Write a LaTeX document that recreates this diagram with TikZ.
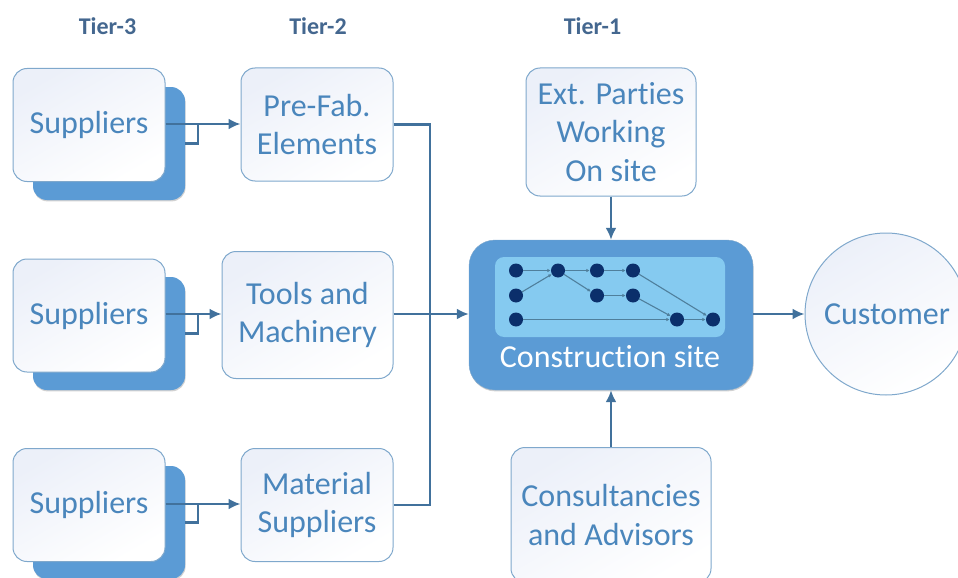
\documentclass[tikz,border=0pt]{standalone}
\usepackage{fontspec}
\setmainfont[Ligatures=NoCommon]{Carlito}
\usetikzlibrary{arrows.meta,calc,shadows}
\definecolor{boxline}{HTML}{7FA8CC}
\definecolor{boxtext}{HTML}{4A86BC}
\definecolor{sitefill}{HTML}{5B9BD5}
\definecolor{panelfill}{HTML}{85CAF0}
\definecolor{linkcol}{HTML}{41719C}
\definecolor{tiercol}{HTML}{44678F}
\definecolor{dotfill}{HTML}{0B2F6B}
\definecolor{hopcol}{HTML}{4F7F9C}
\definecolor{tintcol}{HTML}{ECF0F9}
\tikzset{%
  softshadow/.style = {drop shadow={shadow xshift=0.6pt, shadow yshift=-1.4pt, opacity=0.18, fill=black}},%
  tinted/.style = {top color=tintcol, middle color=white, bottom color=white, shading angle=30},%
  front/.style  = {shape=rectangle, rounded corners=14pt, draw=boxline, line width=1pt,%
                   align=center, inner sep=0pt, font=\fontsize{32}{38.5}\selectfont,%
                   text=boxtext, tinted},%
  back/.style   = {shape=rectangle, rounded corners=14pt, fill=sitefill, inner sep=0pt,%
                   minimum width=152pt, minimum height=113pt, softshadow},%
  supplier/.style = {front, minimum width=152pt, minimum height=113pt},%
  tier/.style   = {font=\fontsize{24}{28}\bfseries\selectfont, text=tiercol},%
  link/.style   = {draw=linkcol, line width=2.3pt},%
  flow/.style   = {link, -{Latex[length=12pt,width=11pt]}},%
  dot/.style    = {circle, fill=dotfill, inner sep=0pt, minimum size=14pt},%
  hop/.style    = {draw=hopcol, line width=1.1pt, -{Latex[length=3.5pt,width=3.5pt]}}%
}
\begin{document}
\begin{tikzpicture}[x=1pt,y=-1pt]
	\useasboundingbox (0,0) rectangle (958,578);
	\clip (0,0) rectangle (958,578);
	% column headers
	\node (tierthree) at (107.5,26) [tier] {Tier-3};
	\node (tiertwo) at (318,26) [tier] {Tier-2};
	\node (tierone) at (592.5,26) [tier] {Tier-1};
	% suppliers
	\node (backa) at (109,143.5) [back] {};
	\node (backb) at (109,333.5) [back] {};
	\node (backc) at (109,522.5) [back] {};
	\node (supa) at (89,125) [supplier] {Suppliers};
	\node (supb) at (89,315.5) [supplier] {Suppliers};
	\node (supc) at (89,505) [supplier] {Suppliers};
	% tier 2
	\node (prefab) at (317,124.5) [front, minimum width=152pt, minimum height=113pt] {Pre-Fab.\\Elements};
	\node (tools) at (307.5,315) [front, minimum width=171pt, minimum height=127pt] {Tools and\\Machinery};
	\node (material) at (317,505) [front, minimum width=152pt, minimum height=113pt] {Material\\Suppliers};
	% tier 1
	\node (parties) at (611,132) [front, minimum width=170pt, minimum height=128pt] {Ext. Parties\\Working\\On site};
	\node (advisors) at (611,515) [front, minimum width=200pt, minimum height=135pt] {Consultancies\\and Advisors};
	\node (site) at (611,315) [shape=rectangle, rounded corners=26pt, fill=sitefill, draw=boxline,%
		minimum width=284pt, minimum height=150pt, softshadow] {};
	\node (panel) at (610,297) [shape=rectangle, rounded corners=9pt, fill=panelfill,%
		minimum width=230pt, minimum height=80pt] {};
	\node (sitename) at (610,357) [font=\fontsize{32}{38}\selectfont, text=white] {Construction site};
	\node (customer) at (886,314) [circle, draw=boxline, line width=1pt, inner sep=0pt, tinted,%
		minimum size=162pt] {};
	\node (customername) at (887,314) [font=\fontsize{32}{38}\selectfont, text=boxtext] {Customer};
	% small network
	\node (na) at (516,270.5) [dot] {};
	\node (nb) at (558,270.5) [dot] {};
	\node (nc) at (597,270.5) [dot] {};
	\node (nd) at (633,270.5) [dot] {};
	\node (ne) at (516,295.5) [dot] {};
	\node (nf) at (597,295.5) [dot] {};
	\node (ng) at (633,295.5) [dot] {};
	\node (nh) at (516,319.5) [dot] {};
	\node (ni) at (677,319.5) [dot] {};
	\node (nj) at (713,319.5) [dot] {};
	\draw [hop] (na) -- (nb);
	\draw [hop] (ne) -- (nb);
	\draw [hop] (nb) -- (nc);
	\draw [hop] (nc) -- (nd);
	\draw [hop] (nb) -- (nf);
	\draw [hop] (nf) -- (ng);
	\draw [hop] (ng) -- (ni);
	\draw [hop] (nd) -- (nj);
	\draw [hop] (nh) -- (ni);
	\draw [hop] (ni) -- (nj);
	% connectors
	\coordinate (joina) at (198,124);
	\coordinate (joinb) at (198,314);
	\coordinate (joinc) at (198,504);
	\coordinate (busline) at (430,314);
	\draw [flow] (supa.east |- joina) -- (prefab.west |- joina);
	\draw [flow] (supb.east |- joinb) -- (tools.west |- joinb);
	\draw [flow] (supc.east |- joinc) -- (material.west |- joinc);
	\draw [link] (backa.east) -| (joina);
	\draw [link] (backb.east) -| (joinb);
	\draw [link] (backc.east) -| (joinc);
	\draw [link] (prefab.east) -| (busline);
	\draw [link] (material.east) -| (busline);
	\draw [flow] (tools.east |- busline) -- (site.west |- busline);
	\draw [flow] (parties.south) -- (site.north -| parties.south);
	\draw [flow] (advisors.north) -- (site.south -| advisors.north);
	\draw [flow] (site.east |- busline) -- (customer.west);
\end{tikzpicture}
\end{document}
